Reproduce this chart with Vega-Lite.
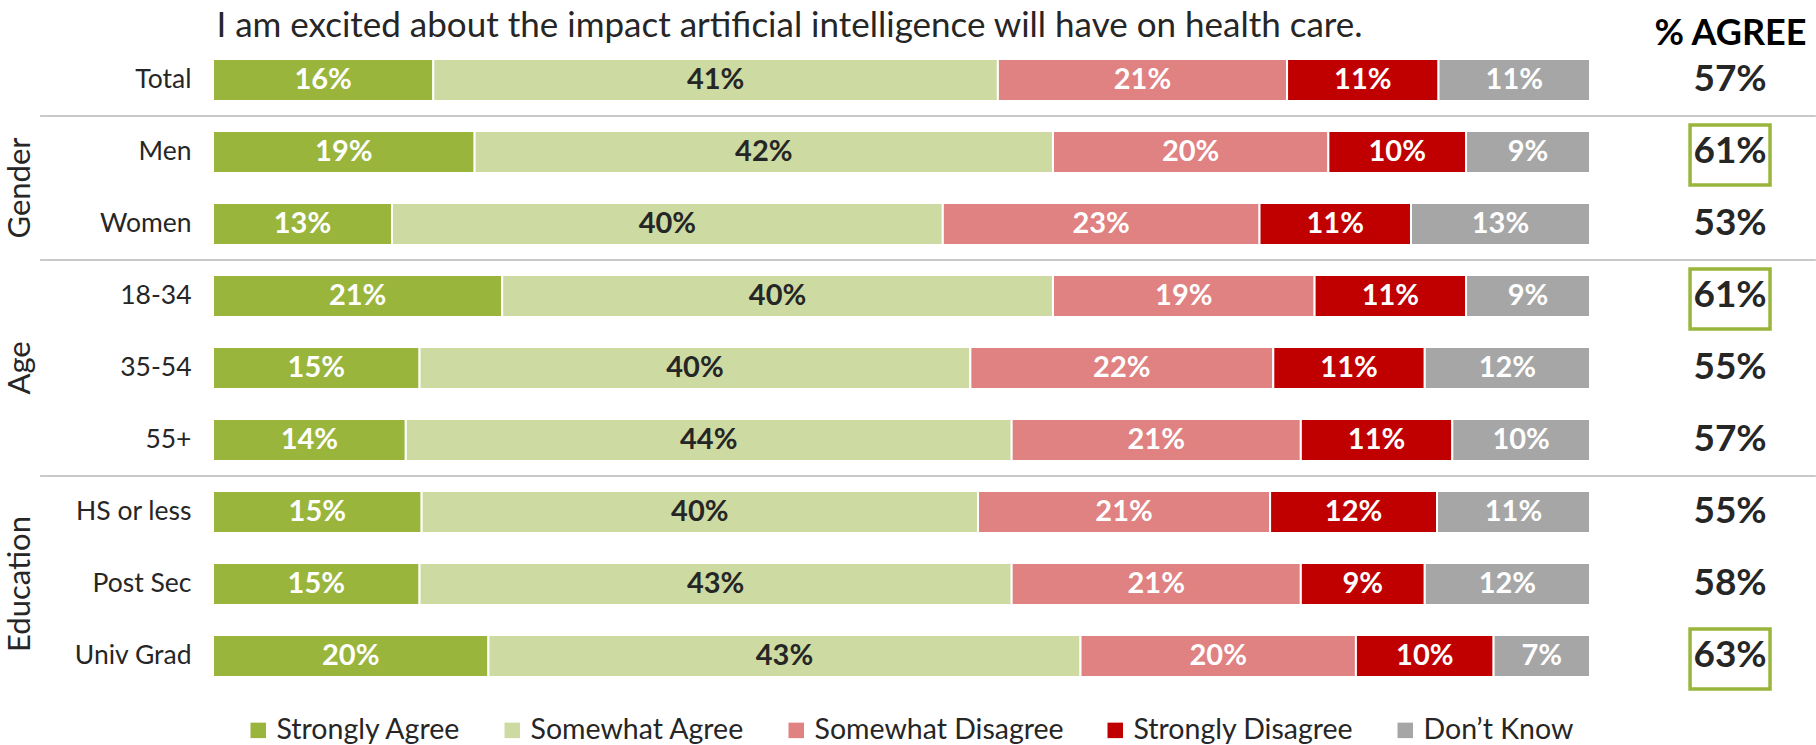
{
  "$schema": "https://vega.github.io/schema/vega-lite/v6.json",
  "autosize": {"type": "none"},
  "width": 1377,
  "height": 648,
  "padding": {"left": 213, "top": 44, "right": 226, "bottom": 53},
  "background": "white",
  "config": {"view": {"stroke": null}, "font": "Lato"},
  "title": {
    "text": "I am excited about the impact artificial intelligence will have on health care.",
    "font": "Lato", "fontSize": 35, "fontWeight": "normal", "color": "#262626",
    "anchor": "middle", "frame": "group", "dx": -112, "dy": 29, "offset": 0
  },
  "datasets": {
    "resp": [
      {"g": "Total", "r": "Strongly Agree", "k": 1, "v": 0.16},
      {"g": "Total", "r": "Somewhat Agree", "k": 2, "v": 0.41},
      {"g": "Total", "r": "Somewhat Disagree", "k": 3, "v": 0.21},
      {"g": "Total", "r": "Strongly Disagree", "k": 4, "v": 0.11},
      {"g": "Total", "r": "Don’t Know", "k": 5, "v": 0.11},
      {"g": "Men", "r": "Strongly Agree", "k": 1, "v": 0.19},
      {"g": "Men", "r": "Somewhat Agree", "k": 2, "v": 0.42},
      {"g": "Men", "r": "Somewhat Disagree", "k": 3, "v": 0.20},
      {"g": "Men", "r": "Strongly Disagree", "k": 4, "v": 0.10},
      {"g": "Men", "r": "Don’t Know", "k": 5, "v": 0.09},
      {"g": "Women", "r": "Strongly Agree", "k": 1, "v": 0.13},
      {"g": "Women", "r": "Somewhat Agree", "k": 2, "v": 0.40},
      {"g": "Women", "r": "Somewhat Disagree", "k": 3, "v": 0.23},
      {"g": "Women", "r": "Strongly Disagree", "k": 4, "v": 0.11},
      {"g": "Women", "r": "Don’t Know", "k": 5, "v": 0.13},
      {"g": "18-34", "r": "Strongly Agree", "k": 1, "v": 0.21},
      {"g": "18-34", "r": "Somewhat Agree", "k": 2, "v": 0.40},
      {"g": "18-34", "r": "Somewhat Disagree", "k": 3, "v": 0.19},
      {"g": "18-34", "r": "Strongly Disagree", "k": 4, "v": 0.11},
      {"g": "18-34", "r": "Don’t Know", "k": 5, "v": 0.09},
      {"g": "35-54", "r": "Strongly Agree", "k": 1, "v": 0.15},
      {"g": "35-54", "r": "Somewhat Agree", "k": 2, "v": 0.40},
      {"g": "35-54", "r": "Somewhat Disagree", "k": 3, "v": 0.22},
      {"g": "35-54", "r": "Strongly Disagree", "k": 4, "v": 0.11},
      {"g": "35-54", "r": "Don’t Know", "k": 5, "v": 0.12},
      {"g": "55+", "r": "Strongly Agree", "k": 1, "v": 0.14},
      {"g": "55+", "r": "Somewhat Agree", "k": 2, "v": 0.44},
      {"g": "55+", "r": "Somewhat Disagree", "k": 3, "v": 0.21},
      {"g": "55+", "r": "Strongly Disagree", "k": 4, "v": 0.11},
      {"g": "55+", "r": "Don’t Know", "k": 5, "v": 0.10},
      {"g": "HS or less", "r": "Strongly Agree", "k": 1, "v": 0.15},
      {"g": "HS or less", "r": "Somewhat Agree", "k": 2, "v": 0.40},
      {"g": "HS or less", "r": "Somewhat Disagree", "k": 3, "v": 0.21},
      {"g": "HS or less", "r": "Strongly Disagree", "k": 4, "v": 0.12},
      {"g": "HS or less", "r": "Don’t Know", "k": 5, "v": 0.11},
      {"g": "Post Sec", "r": "Strongly Agree", "k": 1, "v": 0.15},
      {"g": "Post Sec", "r": "Somewhat Agree", "k": 2, "v": 0.43},
      {"g": "Post Sec", "r": "Somewhat Disagree", "k": 3, "v": 0.21},
      {"g": "Post Sec", "r": "Strongly Disagree", "k": 4, "v": 0.09},
      {"g": "Post Sec", "r": "Don’t Know", "k": 5, "v": 0.12},
      {"g": "Univ Grad", "r": "Strongly Agree", "k": 1, "v": 0.20},
      {"g": "Univ Grad", "r": "Somewhat Agree", "k": 2, "v": 0.43},
      {"g": "Univ Grad", "r": "Somewhat Disagree", "k": 3, "v": 0.20},
      {"g": "Univ Grad", "r": "Strongly Disagree", "k": 4, "v": 0.10},
      {"g": "Univ Grad", "r": "Don’t Know", "k": 5, "v": 0.07}
    ],
    "agree": [
      {"g": "Total", "p": 0.57, "hl": false},
      {"g": "Men", "p": 0.61, "hl": true},
      {"g": "Women", "p": 0.53, "hl": false},
      {"g": "18-34", "p": 0.61, "hl": true},
      {"g": "35-54", "p": 0.55, "hl": false},
      {"g": "55+", "p": 0.57, "hl": false},
      {"g": "HS or less", "p": 0.55, "hl": false},
      {"g": "Post Sec", "p": 0.58, "hl": false},
      {"g": "Univ Grad", "p": 0.63, "hl": true}
    ],
    "seps": [
      {"g": "Men"},
      {"g": "18-34"},
      {"g": "HS or less"}
    ],
    "gender": [
      {"g": "Men", "label": "Gender"}
    ],
    "groups": [
      {"g": "35-54", "label": "Age"},
      {"g": "Post Sec", "label": "Education"}
    ]
  },
  "layer": [
    {
      "data": {"name": "resp"},
      "mark": {"type": "bar", "stroke": "white", "strokeWidth": 2},
      "encoding": {
        "y": {
          "field": "g", "type": "nominal",
          "sort": ["Total", "Men", "Women", "18-34", "35-54", "55+", "HS or less", "Post Sec", "Univ Grad"],
          "scale": {"paddingInner": 0.42, "paddingOuter": 0.21},
          "axis": {"title": null, "ticks": false, "domain": false, "labelFont": "Lato", "labelFontSize": 26.5, "labelColor": "#262626", "labelPadding": 22}
        },
        "x": {
          "field": "v", "type": "quantitative", "stack": "normalize",
          "scale": {"domain": [0, 1], "nice": false},
          "axis": {"orient": "top", "labels": false, "ticks": false, "domain": false, "grid": false,
            "title": "% AGREE", "titleFont": "Lato", "titleFontSize": 36, "titleFontWeight": "bold", "titleColor": "black",
            "titleX": 1517, "titleY": 0, "titleAlign": "center", "titleBaseline": "alphabetic", "titleAngle": 0, "titlePadding": 0}
        },
        "color": {
          "field": "r", "type": "nominal",
          "scale": {
            "domain": ["Strongly Agree", "Somewhat Agree", "Somewhat Disagree", "Strongly Disagree", "Don’t Know"],
            "range": ["#99B53C", "#CDDBA3", "#E08182", "#C00000", "#A6A6A6"]
          },
          "legend": {"title": null, "orient": "none", "legendX": 31, "legendY": 672, "direction": "horizontal",
            "symbolType": "square", "symbolSize": 240, "symbolStrokeWidth": 0,
            "labelFont": "Lato", "labelFontSize": 28.5, "labelColor": "#262626", "labelOffset": 4,
            "columnPadding": 37, "labelLimit": 400}
        },
        "order": {"field": "k"}
      }
    },
    {
      "data": {"name": "resp"},
      "mark": {"type": "text", "font": "Lato", "fontWeight": "bold", "fontSize": 29, "baseline": "middle", "align": "center"},
      "encoding": {
        "y": {"field": "g", "type": "nominal", "sort": ["Total", "Men", "Women", "18-34", "35-54", "55+", "HS or less", "Post Sec", "Univ Grad"]},
        "x": {"field": "v", "type": "quantitative", "stack": "normalize", "bandPosition": 0.5},
        "detail": {"field": "r"},
        "order": {"field": "k"},
        "text": {"field": "v", "format": ".0%"},
        "fill": {"condition": {"test": "datum.r === 'Somewhat Agree'", "value": "#262626"}, "value": "white"}
      }
    },
    {
      "data": {"name": "seps"},
      "mark": {"type": "rule", "stroke": "#C9C9C9", "strokeWidth": 2},
      "encoding": {
        "y": {"field": "g", "type": "nominal", "sort": ["Total", "Men", "Women", "18-34", "35-54", "55+", "HS or less", "Post Sec", "Univ Grad"], "bandPosition": -0.362},
        "x": {"datum": -0.1256, "type": "quantitative"},
        "x2": {"datum": 1.164}
      }
    },
    {
      "data": {"name": "gender"},
      "mark": {"type": "text", "font": "Lato", "fontSize": 31, "color": "#262626", "angle": 270, "align": "center", "baseline": "middle"},
      "encoding": {
        "y": {"field": "g", "type": "nominal", "sort": ["Total", "Men", "Women", "18-34", "35-54", "55+", "HS or less", "Post Sec", "Univ Grad"], "bandPosition": 1.362},
        "x": {"datum": -0.1394, "type": "quantitative"},
        "text": {"field": "label"}
      }
    },
    {
      "data": {"name": "groups"},
      "mark": {"type": "text", "font": "Lato", "fontSize": 31, "color": "#262626", "angle": 270, "align": "center", "baseline": "middle"},
      "encoding": {
        "y": {"field": "g", "type": "nominal", "sort": ["Total", "Men", "Women", "18-34", "35-54", "55+", "HS or less", "Post Sec", "Univ Grad"]},
        "x": {"datum": -0.1394, "type": "quantitative"},
        "text": {"field": "label"}
      }
    },
    {
      "data": {"name": "agree"},
      "mark": {"type": "text", "font": "Lato", "fontWeight": "bold", "fontSize": 37, "color": "#262626", "align": "center", "baseline": "middle"},
      "encoding": {
        "y": {"field": "g", "type": "nominal", "sort": ["Total", "Men", "Women", "18-34", "35-54", "55+", "HS or less", "Post Sec", "Univ Grad"]},
        "x": {"datum": 1.1017, "type": "quantitative"},
        "text": {"field": "p", "format": ".0%"}
      }
    },
    {
      "data": {"name": "agree"},
      "transform": [{"filter": {"field": "hl", "equal": true}}],
      "mark": {"type": "point", "shape": "M-1.333,-1H1.333V1H-1.333Z", "size": 3600, "filled": false, "color": "#99B53C", "strokeWidth": 3.5, "opacity": 1, "yOffset": 3},
      "encoding": {
        "y": {"field": "g", "type": "nominal", "sort": ["Total", "Men", "Women", "18-34", "35-54", "55+", "HS or less", "Post Sec", "Univ Grad"]},
        "x": {"datum": 1.1017, "type": "quantitative"}
      }
    }
  ]
}
